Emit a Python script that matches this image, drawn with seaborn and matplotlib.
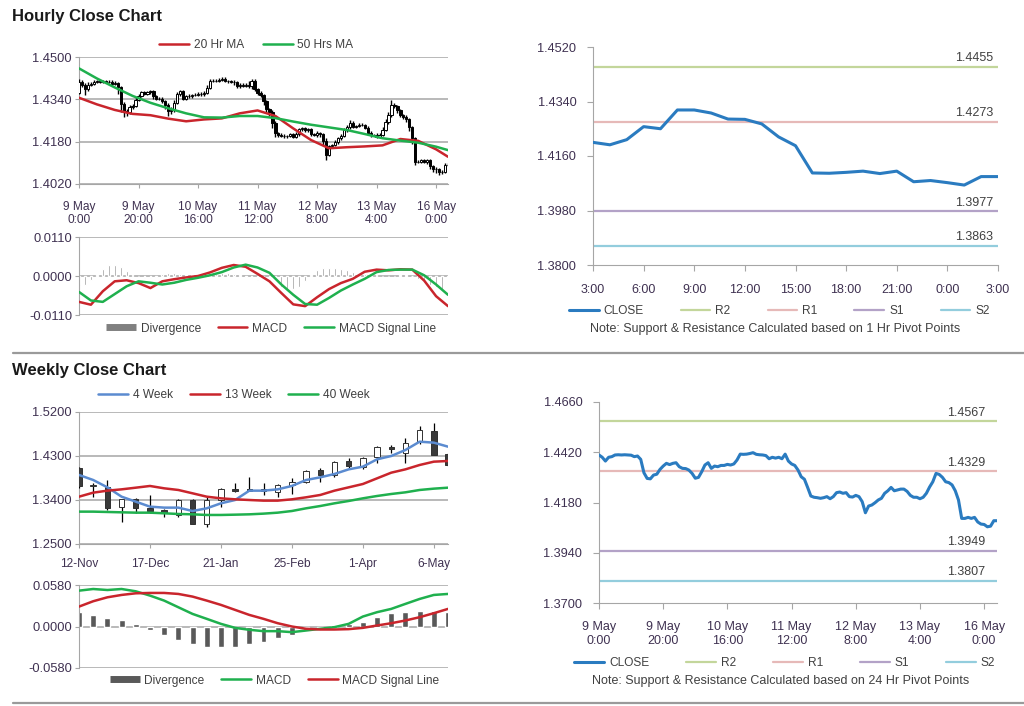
import matplotlib
matplotlib.use("Agg")
import matplotlib.pyplot as plt
from matplotlib.lines import Line2D
from matplotlib.ticker import FormatStrFormatter
import seaborn as sns

sns.set_style("white")
plt.rcParams['font.family'] = ['Liberation Sans', 'DejaVu Sans']
plt.rcParams['axes.unicode_minus'] = False

# ---------------- hourly data (9 May 0:00 -> 16 May 4:00) ----------------
hourly_close = [
    1.4407, 1.4396, 1.4378, 1.4396, 1.4399, 1.4407, 1.4408, 1.4407, 1.4408, 1.4407,
    1.4406, 1.4399, 1.4402, 1.4386, 1.4322, 1.4295, 1.4293, 1.4311, 1.4315, 1.4338,
    1.4354, 1.4367, 1.4361, 1.4367, 1.4370, 1.4351, 1.4343, 1.4342, 1.4335, 1.4319,
    1.4296, 1.4300, 1.4327, 1.4359, 1.4370, 1.4343, 1.4354, 1.4351, 1.4357, 1.4357,
    1.4362, 1.4359, 1.4364, 1.4383, 1.4411, 1.4410, 1.4411, 1.4414, 1.4418, 1.4410,
    1.4408, 1.4407, 1.4404, 1.4389, 1.4396, 1.4392, 1.4396, 1.4389, 1.4411, 1.4378,
    1.4364, 1.4357, 1.4335, 1.4303, 1.4291, 1.4252, 1.4211, 1.4205, 1.4203, 1.4200,
    1.4203, 1.4208, 1.4198, 1.4208, 1.4227, 1.4230, 1.4224, 1.4227, 1.4208, 1.4206,
    1.4214, 1.4208, 1.4184, 1.4131, 1.4163, 1.4168, 1.4179, 1.4192, 1.4200, 1.4224,
    1.4236, 1.4252, 1.4236, 1.4240, 1.4244, 1.4244, 1.4233, 1.4214, 1.4205, 1.4205,
    1.4198, 1.4205, 1.4224, 1.4254, 1.4279, 1.4319, 1.4314, 1.4300, 1.4279, 1.4275,
    1.4264, 1.4236, 1.4192, 1.4104, 1.4104, 1.4109, 1.4104, 1.4109, 1.4087, 1.4077,
    1.4075, 1.4064, 1.4067, 1.4093, 1.4093]
first_open = 1.4365
# wick sizes above / below the candle body, in pips
hi_pips = [8, 6, 5, 10, 6, 5, 4, 5, 6, 4, 5, 6, 8, 4, 6, 8, 10, 6, 8, 10, 8, 6, 5, 6, 6,
           5, 4, 6, 5, 4, 8, 10, 12, 8, 6, 5, 4, 6, 5, 6, 5, 6, 8, 10, 6, 5, 4, 6, 8, 5,
           4, 6, 5, 6, 4, 6, 5, 12, 5, 4, 5, 6, 5, 4, 6, 8, 5, 4, 6, 5, 4, 6, 5, 8, 6,
           5, 6, 5, 4, 6, 5, 4, 5, 10, 6, 5, 8, 6, 10, 8, 6, 10, 5, 4, 6, 5, 4, 5, 6, 5,
           6, 8, 10, 12, 15, 20, 6, 5, 4, 6, 5, 6, 5, 6, 8, 5, 6, 5, 4, 5, 6, 5, 6, 8, 6]
lo_pips = [6, 8, 20, 6, 5, 4, 5, 6, 4, 5, 6, 8, 5, 25, 30, 20, 15, 8, 6, 5, 4, 6, 5, 6, 5,
           8, 6, 5, 8, 15, 20, 12, 6, 5, 8, 6, 5, 6, 5, 4, 6, 5, 6, 5, 4, 5, 6, 5, 4, 6,
           5, 6, 8, 5, 6, 5, 6, 8, 10, 6, 8, 10, 15, 12, 15, 20, 12, 8, 6, 5, 8, 6, 5, 4, 6,
           5, 8, 6, 5, 6, 8, 10, 15, 20, 6, 5, 4, 6, 5, 4, 6, 8, 5, 6, 5, 4, 6, 8, 6, 5,
           6, 5, 4, 5, 6, 5, 8, 10, 6, 8, 10, 15, 20, 12, 6, 5, 6, 8, 10, 12, 15, 10, 6, 5, 4]

ma_hours = [0, 6, 12, 18, 24, 30, 36, 42, 48, 54, 60, 66, 72, 78, 84, 90, 96, 102, 108, 114, 120, 124]
ma20 = [1.4346, 1.4321, 1.4300, 1.4285, 1.4280, 1.4267, 1.4257, 1.4264, 1.4268, 1.4287, 1.4298,
        1.4277, 1.4230, 1.4186, 1.4155, 1.4159, 1.4162, 1.4166, 1.4190, 1.4183, 1.4151, 1.4123]
ma50 = [1.4457, 1.4419, 1.4385, 1.4353, 1.4327, 1.4306, 1.4287, 1.4272, 1.4271, 1.4277, 1.4277,
        1.4269, 1.4256, 1.4244, 1.4234, 1.4224, 1.4209, 1.4193, 1.4184, 1.4176, 1.4161, 1.4148]

macd_hours = list(range(0, 125, 4))
h_macd = [-0.0073, -0.0081, -0.0043, -0.0015, -0.0012, -0.0020, -0.0034, -0.0015, -0.0009, -0.0004,
          0.0000, 0.0010, 0.0023, 0.0031, 0.0026, 0.0006, -0.0015, -0.0048, -0.0080, -0.0085,
          -0.0060, -0.0037, -0.0020, -0.0008, 0.0012, 0.0018, 0.0016, 0.0019, 0.0018, -0.0013,
          -0.0057, -0.0085]
h_signal = [-0.0045, -0.0069, -0.0073, -0.0051, -0.0029, -0.0015, -0.0019, -0.0024, -0.0019, -0.0011,
            -0.0005, 0.0002, 0.0011, 0.0024, 0.0032, 0.0024, 0.0009, -0.0024, -0.0053, -0.0079,
            -0.0081, -0.0062, -0.0041, -0.0024, -0.0008, 0.0011, 0.0017, 0.0018, 0.0018, 0.0002,
            -0.0024, -0.0053]
div_hours = list(range(0, 125, 2))
h_div = [-0.0025, -0.0024, -0.0012, 0.0003, 0.0021, 0.0031, 0.0031, 0.0024, 0.0013, 0.0004,
         0.0000, -0.0005, -0.0006, -0.0003, 0.0006, 0.0008, 0.0008, 0.0005, 0.0004, 0.0003,
         0.0003, 0.0004, 0.0005, 0.0006, 0.0008, 0.0008, 0.0006, 0.0003, -0.0002, -0.0005,
         -0.0010, -0.0015, -0.0022, -0.0028, -0.0032, -0.0036, -0.0037, -0.0030, -0.0015, 0.0004,
         0.0017, 0.0022, 0.0023, 0.0022, 0.0019, 0.0016, 0.0012, 0.0008, 0.0006, 0.0004,
         0.0003, 0.0001, 0.0001, 0.0000, 0.0002, 0.0002, 0.0001, -0.0008, -0.0015, -0.0024,
         -0.0032, -0.0040, -0.0040]
hour_ticks = [0, 20, 40, 60, 80, 100, 120]
hour_labels = ["9 May\n0:00", "9 May\n20:00", "10 May\n16:00", "11 May\n12:00",
               "12 May\n8:00", "13 May\n4:00", "16 May\n0:00"]

# last 24 hours, 1 hr pivots
day_close = [1.4205, 1.4197, 1.4214, 1.4257, 1.4250, 1.4312, 1.4312, 1.4302, 1.4282, 1.4281,
             1.4266, 1.4223, 1.4194, 1.4104, 1.4103, 1.4106, 1.4110, 1.4102, 1.4110, 1.4075,
             1.4079, 1.4072, 1.4064, 1.4092, 1.4092]
day_labels = ["3:00", "6:00", "9:00", "12:00", "15:00", "18:00", "21:00", "0:00", "3:00"]
pivot_names = ["R2", "R1", "S1", "S2"]
pivots_1h = [1.4455, 1.4273, 1.3977, 1.3863]
pivots_24h = [1.4567, 1.4329, 1.3949, 1.3807]

# ---------------- weekly data ----------------
wk_open = [1.4048, 1.3687, 1.3659, 1.3250, 1.3414, 1.3243, 1.3196, 1.3094, 1.3400, 1.2910,
           1.3400, 1.3632, 1.3632, 1.3591, 1.3571, 1.3707, 1.3775, 1.4014, 1.3912, 1.4198,
           1.4082, 1.4273, 1.4491, 1.4355, 1.4593, 1.4818, 1.4334]
wk_close = [1.3687, 1.3700, 1.3230, 1.3421, 1.3230, 1.3182, 1.3128, 1.3400, 1.2910, 1.3400,
            1.3625, 1.3591, 1.3591, 1.3618, 1.3707, 1.3775, 1.4000, 1.3918, 1.4184, 1.4102,
            1.4252, 1.4491, 1.4436, 1.4573, 1.4832, 1.4321, 1.4116]
wk_high = [1.4082, 1.3755, 1.3809, 1.3421, 1.3434, 1.3503, 1.3209, 1.3414, 1.3427, 1.3455,
           1.3639, 1.3755, 1.3864, 1.3755, 1.3727, 1.3843, 1.4014, 1.4048, 1.4198, 1.4252,
           1.4273, 1.4505, 1.4525, 1.4675, 1.4914, 1.4968, 1.4355]
wk_low = [1.3639, 1.3468, 1.3196, 1.2957, 1.3141, 1.3128, 1.3046, 1.3060, 1.2903, 1.2855,
          1.3250, 1.3564, 1.3591, 1.3503, 1.3455, 1.3523, 1.3741, 1.3775, 1.3864, 1.4048,
          1.4027, 1.4164, 1.4368, 1.4164, 1.4546, 1.4321, 1.4102]
wk_ma4 = [1.3912, 1.3809, 1.3659, 1.3468, 1.3366, 1.3264, 1.3244, 1.3244, 1.3175, 1.3230,
          1.3332, 1.3400, 1.3591, 1.3591, 1.3618, 1.3687, 1.3809, 1.3864, 1.3932, 1.4027,
          1.4082, 1.4232, 1.4300, 1.4423, 1.4593, 1.4573, 1.4491]
wk_ma13 = [1.3468, 1.3550, 1.3591, 1.3618, 1.3652, 1.3687, 1.3639, 1.3605, 1.3537, 1.3468,
           1.3434, 1.3414, 1.3400, 1.3387, 1.3387, 1.3414, 1.3455, 1.3503, 1.3591, 1.3659,
           1.3727, 1.3843, 1.3959, 1.4027, 1.4116, 1.4184, 1.4198]
wk_ma40 = [1.3162, 1.3162, 1.3155, 1.3148, 1.3141, 1.3141, 1.3128, 1.3114, 1.3107, 1.3094,
           1.3094, 1.3100, 1.3107, 1.3121, 1.3141, 1.3175, 1.3230, 1.3277, 1.3332, 1.3380,
           1.3434, 1.3482, 1.3523, 1.3557, 1.3605, 1.3632, 1.3652]
wk_macd = [0.0501, 0.0524, 0.0510, 0.0524, 0.0492, 0.0432, 0.0362, 0.0269, 0.0176, 0.0107,
           0.0037, -0.0019, -0.0046, -0.0065, -0.0065, -0.0079, -0.0056, -0.0032, -0.0009, 0.0037,
           0.0139, 0.0200, 0.0246, 0.0316, 0.0385, 0.0441, 0.0455]
wk_signal = [0.0278, 0.0353, 0.0408, 0.0441, 0.0464, 0.0469, 0.0469, 0.0455, 0.0418, 0.0362,
             0.0302, 0.0232, 0.0162, 0.0107, 0.0046, 0.0000, -0.0032, -0.0042, -0.0042, -0.0037,
             -0.0019, 0.0014, 0.0046, 0.0084, 0.0130, 0.0186, 0.0246]
wk_div = [0.0200, 0.0167, 0.0121, 0.0093, 0.0028, -0.0046, -0.0125, -0.0186, -0.0251, -0.0288,
          -0.0288, -0.0288, -0.0241, -0.0218, -0.0158, -0.0125, -0.0046, -0.0019, 0.0014, 0.0028,
          0.0060, 0.0139, 0.0186, 0.0200, 0.0213, 0.0223, 0.0200]
week_ticks = [0, 5, 10, 15, 20, 25]
week_labels = ["12-Nov", "17-Dec", "21-Jan", "25-Feb", "1-Apr", "6-May"]

# ---------------- colours ----------------
TICK_COL = "#3f3151"
GRID_COL = "#a6a6a6"
RED = "#c9252c"
GREEN = "#1fb04e"
BLUE_MA = "#5b8bd0"
CLOSE_BLUE = "#2a7bc0"
PIVOT_COLS = ["#c3d69b", "#e6b9b8", "#b3a2c7", "#93cddd"]

W, H = 1024, 706
fig = plt.figure(figsize=(W / 100, H / 100), dpi=100)


def px_axes(left, top, right, bottom):
    return fig.add_axes([left / W, 1 - bottom / H, (right - left) / W, (bottom - top) / H])


def grid_style(ax, yticks, xpad=9):
    # left-hand charts: horizontal grid, grey left spine
    ax.set_ylim(yticks[0], yticks[-1])
    ax.set_yticks(yticks)
    ax.yaxis.set_major_formatter(FormatStrFormatter("%.4f"))
    ax.grid(axis="y", color=GRID_COL, lw=1.1)
    ax.grid(axis="x", visible=False)
    for s in ["top", "right"]:
        ax.spines[s].set_visible(False)
    for s in ["left", "bottom"]:
        ax.spines[s].set_color(GRID_COL)
    ax.tick_params(axis="both", colors=GRID_COL, labelcolor=TICK_COL,
                   length=3, width=0.8, left=True, bottom=True)
    ax.tick_params(axis="y", labelsize=9.3, pad=2)
    ax.tick_params(axis="x", labelsize=8.6, pad=xpad)
    ax.set_axisbelow(True)


def pivot_style(ax, yticks, xpad):
    ax.set_ylim(yticks[0], yticks[-1])
    ax.set_yticks(yticks)
    ax.yaxis.set_major_formatter(FormatStrFormatter("%.4f"))
    ax.grid(False)
    for s in ["top", "right"]:
        ax.spines[s].set_visible(False)
    for s in ["left", "bottom"]:
        ax.spines[s].set_color(GRID_COL)
    ax.tick_params(axis="both", colors=GRID_COL, labelcolor=TICK_COL,
                   length=4, width=0.8, left=True, bottom=True)
    ax.tick_params(axis="y", labelsize=9.2, pad=8)
    ax.tick_params(axis="x", labelsize=9, pad=xpad)


def draw_candles(ax, opens, closes, highs, lows, width, up_col, dn_col, edge, wick_lw):
    xs = list(range(len(closes)))
    ax.vlines(xs, lows, highs, color="black", lw=wick_lw, zorder=3)
    bottoms = [min(o, c) for o, c in zip(opens, closes)]
    heights = [max(abs(c - o), 0.00005) for o, c in zip(opens, closes)]
    cols = [up_col if c >= o else dn_col for o, c in zip(opens, closes)]
    ax.bar(xs, heights, bottom=bottoms, width=width, color=cols, edgecolor=edge,
           lw=0.7, zorder=4)


def pivot_lines(ax, values, label_x):
    for name, val, col in zip(pivot_names, values, PIVOT_COLS):
        ax.axhline(val, color=col, lw=1.6, zorder=1, label=name)
        ax.annotate(f"{val:.4f}", xy=(label_x, val), xycoords=("axes fraction", "data"),
                    xytext=(0, 2), textcoords="offset points", ha="right", va="bottom",
                    fontsize=9, color="#404040")


leg_kw = dict(frameon=False, fontsize=8.6, handlelength=2.5, handletextpad=0.4,
              labelcolor="#404040")

# ================= Hourly close chart =================
ax_h = px_axes(79, 57, 448, 184)
grid_style(ax_h, [1.4020, 1.4180, 1.4340, 1.4500], xpad=9)
h_opens = [first_open] + hourly_close[:-1]
h_highs = [max(o, c) + p / 10000 for o, c, p in zip(h_opens, hourly_close, hi_pips)]
h_lows = [min(o, c) - p / 10000 for o, c, p in zip(h_opens, hourly_close, lo_pips)]
draw_candles(ax_h, h_opens, hourly_close, h_highs, h_lows, 0.75, "white", "black", "black", 1.0)
sns.lineplot(x=ma_hours, y=ma20, ax=ax_h, color=RED, lw=1.8, label="20 Hr MA", zorder=5)
sns.lineplot(x=ma_hours, y=ma50, ax=ax_h, color=GREEN, lw=1.8, label="50 Hrs MA", zorder=5)
ax_h.set_xlim(0, 124)
ax_h.set_xticks(hour_ticks)
ax_h.set_xticklabels(hour_labels)
ax_h.set_xlabel("")
ax_h.set_ylabel("")
ax_h.legend(loc="lower center", bbox_to_anchor=(0.48, 0.965), ncol=2, columnspacing=1.6, **leg_kw)

ax_hm = px_axes(79, 237, 448, 315)
grid_style(ax_hm, [-0.0110, 0.0000, 0.0110])
ax_hm.bar(div_hours, h_div, width=0.6, color="#8c8c8c", zorder=2)
sns.lineplot(x=macd_hours, y=h_macd, ax=ax_hm, color=RED, lw=1.8, label="MACD", zorder=4)
sns.lineplot(x=macd_hours, y=h_signal, ax=ax_hm, color=GREEN, lw=1.8, label="MACD Signal Line", zorder=4)
ax_hm.set_xlim(0, 124)
ax_hm.set_xticks([])
ax_hm.spines["bottom"].set_visible(False)
ax_hm.set_xlabel("")
ax_hm.set_ylabel("")
hm_handles = [Line2D([], [], color="#808080", lw=5, solid_capstyle="butt")] + \
    ax_hm.get_legend_handles_labels()[0]
ax_hm.legend(hm_handles, ["Divergence", "MACD", "MACD Signal Line"], loc="upper center",
             bbox_to_anchor=(0.52, 0.04), ncol=3, columnspacing=1.4, **leg_kw)

# 24 hour close with 1 hr pivots
ax_d = px_axes(593, 47, 998, 265)
pivot_style(ax_d, [1.3800, 1.3980, 1.4160, 1.4340, 1.4520], xpad=10)
pivot_lines(ax_d, pivots_1h, 0.988)
sns.lineplot(x=list(range(len(day_close))), y=day_close, ax=ax_d, color=CLOSE_BLUE, lw=2.2,
             label="CLOSE", zorder=3)
ax_d.set_xlim(0, 24)
ax_d.set_xticks(list(range(0, 25, 3)))
ax_d.set_xticklabels(day_labels)
ax_d.set_xlabel("")
ax_d.set_ylabel("")
hd, ld = ax_d.get_legend_handles_labels()
order = [ld.index(n) for n in ["CLOSE"] + pivot_names]
ax_d.legend([hd[i] for i in order], [ld[i] for i in order], loc="upper center",
            bbox_to_anchor=(0.46, -0.135), ncol=5, columnspacing=3.1, **leg_kw)
fig.text(775 / W, 1 - 329 / H, "Note: Support & Resistance Calculated based on 1 Hr Pivot Points",
         ha="center", va="center", fontsize=9, color="#404040")

# ================= Weekly close chart =================
ax_w = px_axes(79, 412, 448, 544)
grid_style(ax_w, [1.2500, 1.3400, 1.4300, 1.5200], xpad=7)
draw_candles(ax_w, wk_open, wk_close, wk_high, wk_low, 0.38, "white", "#3a3a3a", "#303030", 0.9)
wx = list(range(len(wk_close)))
sns.lineplot(x=wx, y=wk_ma4, ax=ax_w, color=BLUE_MA, lw=1.8, label="4 Week", zorder=5)
sns.lineplot(x=wx, y=wk_ma13, ax=ax_w, color=RED, lw=1.8, label="13 Week", zorder=5)
sns.lineplot(x=wx, y=wk_ma40, ax=ax_w, color=GREEN, lw=1.8, label="40 Week", zorder=5)
ax_w.set_xlim(0, 26)
ax_w.set_xticks(week_ticks)
ax_w.set_xticklabels(week_labels)
ax_w.set_xlabel("")
ax_w.set_ylabel("")
ax_w.legend(loc="lower center", bbox_to_anchor=(0.42, 1.0), ncol=3, columnspacing=1.4, **leg_kw)

ax_wm = px_axes(79, 585, 448, 668)
grid_style(ax_wm, [-0.0580, 0.0000, 0.0580])
ax_wm.bar(wx, wk_div, width=0.42, color="#595959", zorder=2)
sns.lineplot(x=wx, y=wk_macd, ax=ax_wm, color=GREEN, lw=1.8, label="MACD", zorder=4)
sns.lineplot(x=wx, y=wk_signal, ax=ax_wm, color=RED, lw=1.8, label="MACD Signal Line", zorder=4)
ax_wm.set_xlim(0, 26)
ax_wm.set_xticks([])
ax_wm.spines["bottom"].set_visible(False)
ax_wm.set_xlabel("")
ax_wm.set_ylabel("")
wm_handles = [Line2D([], [], color="#595959", lw=5, solid_capstyle="butt")] + \
    ax_wm.get_legend_handles_labels()[0]
ax_wm.legend(wm_handles, ["Divergence", "MACD", "MACD Signal Line"], loc="upper center",
             bbox_to_anchor=(0.53, 0.05), ncol=3, columnspacing=1.4, **leg_kw)

# hourly close with 24 hr pivots
ax_c = px_axes(599, 402, 997, 603)
pivot_style(ax_c, [1.3700, 1.3940, 1.4180, 1.4420, 1.4660], xpad=9)
pivot_lines(ax_c, pivots_24h, 0.97)
sns.lineplot(x=list(range(len(hourly_close))), y=hourly_close, ax=ax_c, color=CLOSE_BLUE,
             lw=2.2, label="CLOSE", zorder=3)
ax_c.set_xlim(0, 124)
ax_c.set_xticks(hour_ticks)
ax_c.set_xticklabels(hour_labels)
ax_c.set_xlabel("")
ax_c.set_ylabel("")
hc, lc = ax_c.get_legend_handles_labels()
order = [lc.index(n) for n in ["CLOSE"] + pivot_names]
ax_c.legend([hc[i] for i in order], [lc[i] for i in order], loc="upper center",
            bbox_to_anchor=(0.467, -0.215), ncol=5, columnspacing=3.1, **leg_kw)
fig.text(781 / W, 1 - 681 / H, "Note: Support & Resistance Calculated based on 24 Hr Pivot Points",
         ha="center", va="center", fontsize=9, color="#404040")

# ================= titles and separators =================
fig.text(12 / W, 1 - 16 / H, "Hourly Close Chart", fontsize=12, fontweight="bold",
         ha="left", va="center", color="#1a1a1a")
fig.text(12 / W, 1 - 370 / H, "Weekly Close Chart", fontsize=12, fontweight="bold",
         ha="left", va="center", color="#1a1a1a")
for y in [353, 703]:
    fig.add_artist(Line2D([13 / W, 1.0], [1 - y / H, 1 - y / H], color="#9a9a9a", lw=1.6))

fig.savefig("out.png", dpi=100)
